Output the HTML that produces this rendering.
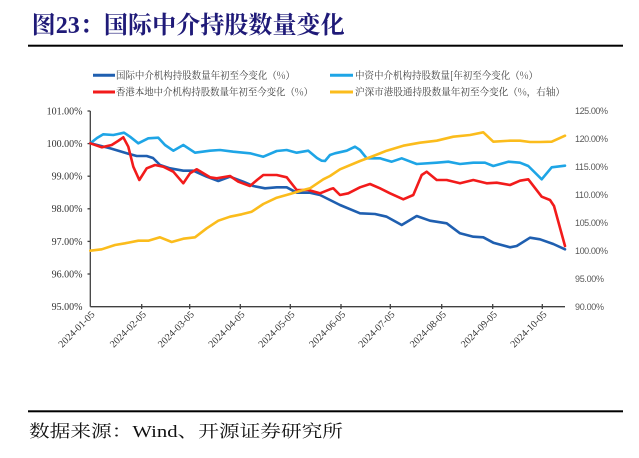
<!DOCTYPE html>
<html>
<head>
<meta charset="utf-8">
<style>
html,body{margin:0;padding:0;background:#fff;}
svg{display:block;}
</style>
</head>
<body>
<svg width="639" height="458" viewBox="0 0 639 458" xmlns="http://www.w3.org/2000/svg">
<rect width="639" height="458" fill="#fff"/>
<!-- Title -->
<text x="31.7" y="33" font-family="'Liberation Serif','Noto Serif CJK SC',serif" font-weight="bold" font-size="24" fill="#1f1a78" textLength="313" lengthAdjust="spacingAndGlyphs">图23：国际中介持股数量变化</text>
<rect x="28" y="44.7" width="595" height="2" fill="#000"/>

<!-- Legend -->
<g font-family="'Noto Serif CJK SC','Liberation Serif',serif" font-size="10" fill="#404040">
  <line x1="93" y1="75.3" x2="115" y2="75.3" stroke="#1f5fb0" stroke-width="3"/>
  <text x="116" y="79" textLength="179" lengthAdjust="spacingAndGlyphs">国际中介机构持股数量年初至今变化（%）</text>
  <line x1="93" y1="92" x2="115" y2="92" stroke="#f21b1b" stroke-width="3"/>
  <text x="116" y="95.7" textLength="197" lengthAdjust="spacingAndGlyphs">香港本地中介机构持股数量年初至今变化（%）</text>
  <line x1="330" y1="75.3" x2="353" y2="75.3" stroke="#1ea5e6" stroke-width="3"/>
  <text x="355" y="79" textLength="183" lengthAdjust="spacingAndGlyphs">中资中介机构持股数量[年初至今变化（%）</text>
  <line x1="330" y1="92" x2="353" y2="92" stroke="#fbbc1c" stroke-width="3"/>
  <text x="355" y="95.7" textLength="210" lengthAdjust="spacingAndGlyphs">沪深市港股通持股数量年初至今变化（%，右轴）</text>
</g>

<!-- Left axis labels -->
<g font-family="'Liberation Serif',serif" font-size="10" fill="#333" text-anchor="end">
  <text x="82.5" y="114.5">101.00%</text>
  <text x="82.5" y="147">100.00%</text>
  <text x="82.5" y="179.6">99.00%</text>
  <text x="82.5" y="212.2">98.00%</text>
  <text x="82.5" y="244.8">97.00%</text>
  <text x="82.5" y="277.4">96.00%</text>
  <text x="82.5" y="310">95.00%</text>
</g>
<!-- Right axis labels -->
<g font-family="'Liberation Sans',sans-serif" font-size="9" fill="#595959">
  <text x="575" y="114" textLength="33">125.00%</text>
  <text x="575" y="142" textLength="33">120.00%</text>
  <text x="575" y="170" textLength="33">115.00%</text>
  <text x="575" y="198" textLength="33">110.00%</text>
  <text x="575" y="226" textLength="33">105.00%</text>
  <text x="575" y="254" textLength="33">100.00%</text>
  <text x="575" y="282" textLength="29">95.00%</text>
  <text x="575" y="310" textLength="29">90.00%</text>
</g>

<!-- Axes -->
<g stroke="#404040" stroke-width="1.3" fill="none">
  <line x1="90.3" y1="111" x2="90.3" y2="306.7"/>
  <line x1="90.3" y1="306.7" x2="565" y2="306.7"/>
  <line x1="87.5" y1="111" x2="90.3" y2="111"/>
  <line x1="87.5" y1="143.6" x2="90.3" y2="143.6"/>
  <line x1="87.5" y1="176.2" x2="90.3" y2="176.2"/>
  <line x1="87.5" y1="208.8" x2="90.3" y2="208.8"/>
  <line x1="87.5" y1="241.4" x2="90.3" y2="241.4"/>
  <line x1="87.5" y1="274" x2="90.3" y2="274"/>
  <line x1="141.7" y1="304" x2="141.7" y2="309"/>
  <line x1="189.7" y1="304" x2="189.7" y2="309"/>
  <line x1="240.3" y1="304" x2="240.3" y2="309"/>
  <line x1="290.3" y1="304" x2="290.3" y2="309"/>
  <line x1="341" y1="304" x2="341" y2="309"/>
  <line x1="390.3" y1="304" x2="390.3" y2="309"/>
  <line x1="441.7" y1="304" x2="441.7" y2="309"/>
  <line x1="492.7" y1="304" x2="492.7" y2="309"/>
  <line x1="542.3" y1="304" x2="542.3" y2="309"/>
</g>

<!-- X labels -->
<g font-family="'Liberation Serif',serif" font-size="10" fill="#333" text-anchor="end">
  <text transform="translate(95.3,315) rotate(-45)">2024-01-05</text>
  <text transform="translate(146.7,315) rotate(-45)">2024-02-05</text>
  <text transform="translate(194.7,315) rotate(-45)">2024-03-05</text>
  <text transform="translate(245.3,315) rotate(-45)">2024-04-05</text>
  <text transform="translate(295.3,315) rotate(-45)">2024-05-05</text>
  <text transform="translate(346,315) rotate(-45)">2024-06-05</text>
  <text transform="translate(395.3,315) rotate(-45)">2024-07-05</text>
  <text transform="translate(446.7,315) rotate(-45)">2024-08-05</text>
  <text transform="translate(497.7,315) rotate(-45)">2024-09-05</text>
  <text transform="translate(547.3,315) rotate(-45)">2024-10-05</text>
</g>

<!-- Series -->
<g fill="none" stroke-width="2.6" stroke-linejoin="round" stroke-linecap="round">
  <polyline stroke="#1f5fb0" points="90.3,143.3 110,148.3 126.7,153.3 136.7,156 146.7,156 153,158 160,165 170,168.3 183.3,170.7 193.3,170.7 206.7,176.7 218.3,181 230,176.7 243.3,181.7 253.3,186 265,188.3 276.7,187.3 286.7,187.3 296.7,192.7 310,192.7 320,195 330,200 340,205 360,213.3 375,214 386.7,216.7 401.7,225 416.7,216 430,220.7 446.7,223.3 460,233.3 473.3,236.7 483.3,237.3 493.3,242.7 510,247.3 516.7,246 530,237.7 540,239.3 553.3,244 565,249.3"/>
  <polyline stroke="#1ea5e6" points="90.3,143.3 97,138 103.3,134.3 113.3,135 118,134 124,132.7 130,136.7 138.3,143.3 148.3,138.3 158.3,137.7 165,145 173.3,150.7 183.3,145 195,152.7 210,150.7 220,150 233.3,151.7 250,153.3 263.3,156.7 276.7,151 286.7,150 296.7,152.7 308.3,150.7 317,158 321.7,160.7 325,161 330,155 335,153.3 346.7,150.7 355,146.7 360,150 366.7,158.3 380,158.3 391.7,161.7 401.7,158.3 416.7,164 436.7,162.7 448.3,161.7 460,164 473.3,162.7 485,162.7 493.3,166 508.3,161.7 520,162.7 528.3,166 541.7,179.3 551.7,167.3 565,165.7"/>
  <polyline stroke="#f21b1b" points="90.3,143.3 101.7,147.3 111.7,145 118,141 123.3,137.3 128.3,146.7 133.3,166.7 139.3,180 146.7,168.3 155,165 163.3,166.7 173.3,171.7 183.3,183.3 190,173.3 196.7,169.3 210,177.3 216.7,178.3 230,176 238.3,181.7 250,186 257,180 263.3,175 276.7,175 286.7,177.3 296.7,190 308.3,190 320,193.3 330,189.3 333.3,188.3 340,195 348.3,193.3 360,187.3 370,184 380,188.3 390,193.3 403.3,199.3 413.3,195 421.7,175 426.7,171.7 436.7,180 446.7,180 460,183.3 473.3,180 486.7,183.3 496.7,182.7 510,185 520,180.7 528.3,179.3 541.7,196.7 550,200 554,206 565,246"/>
  <polyline stroke="#fbbc1c" points="90.3,250.7 101.7,249.3 115,245 125,243.3 138.3,240.7 148.3,240.7 160,237.3 171.7,242 183.3,238.7 195,237.3 206.7,228.3 218.3,220.7 230,216.7 241.7,214.3 251.7,211.7 263.3,204 276.7,197.7 290,194 303.3,190 310,188.3 323.3,179.3 330,176 340,169.3 360,161 373.3,156 386.7,150.7 403.3,145.7 420,142.7 436.7,140.7 453.3,136.7 470,135 483.3,132.3 493.3,141.7 510,140.7 520,140.7 530,142 540,142 551.7,141.7 565,135.7"/>
</g>

<!-- Footer -->
<rect x="28" y="410.3" width="595" height="2" fill="#000"/>
<text x="29" y="437" font-family="'Liberation Serif','Noto Serif CJK SC',serif" font-size="17" fill="#111" textLength="314" lengthAdjust="spacingAndGlyphs">数据来源：Wind、开源证券研究所</text>
</svg>
</body>
</html>
